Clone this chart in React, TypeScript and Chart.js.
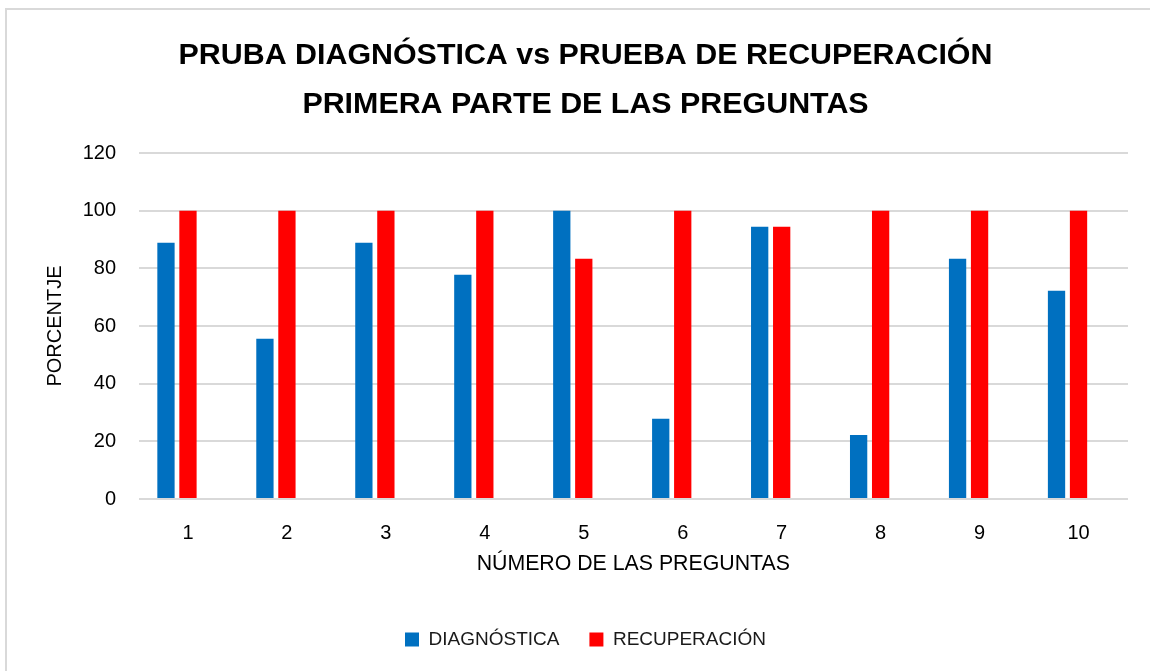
import React, { useEffect, useRef } from "react";
import { Chart, registerables } from "chart.js";

Chart.register(...registerables);

const categories = ["1", "2", "3", "4", "5", "6", "7", "8", "9", "10"];
const diagnostica = [88.9, 55.6, 88.9, 77.8, 100, 27.8, 94.4, 22.2, 83.3, 72.2];
const recuperacion = [100, 100, 100, 100, 83.3, 100, 94.4, 100, 100, 100];
const emptySeries = [null, null, null, null, null, null, null, null, null, null];
const titleLines = ["PRUBA DIAGNÓSTICA vs PRUEBA DE RECUPERACIÓN", "PRIMERA PARTE DE LAS PREGUNTAS"];

const FONT = "'Liberation Sans', Arial, sans-serif";

export default function App() {
  const ref = useRef<HTMLCanvasElement | null>(null);

  useEffect(() => {
    if (!ref.current) return;
    const chart = new Chart(ref.current, {
      type: "bar",
      data: {
        labels: categories,
        datasets: [
          { label: "DIAGNÓSTICA", data: diagnostica, backgroundColor: "#0070C0", borderWidth: 0 },
          { label: "RECUPERACIÓN", data: recuperacion, backgroundColor: "#FF0000", borderWidth: 0 },
          { label: "", data: emptySeries as any, backgroundColor: "rgba(0,0,0,0)", borderWidth: 0 },
        ],
      },
      options: {
        animation: false,
        responsive: false,
        maintainAspectRatio: false,
        datasets: { bar: { categoryPercentage: 0.667, barPercentage: 0.786 } },
        layout: { padding: { left: 43, right: 34, top: 0, bottom: 12 } },
        plugins: {
          tooltip: { enabled: false },
          title: {
            display: true,
            text: titleLines,
            color: "#000",
            font: { family: FONT, size: 30.4, weight: "bold", lineHeight: 49 / 30.4 },
            padding: { top: 31.5, bottom: 23.5 },
          },
          legend: {
            position: "bottom",
            labels: {
              color: "#1a1a1a",
              font: { family: FONT, size: 19 },
              boxWidth: 14,
              boxHeight: 14,
              padding: 30,
              filter: (item: any) => item.text !== "",
            },
          },
        },
        scales: {
          x: {
            grid: { display: false, drawTicks: false },
            border: { display: false },
            ticks: { color: "#000", font: { family: FONT, size: 20 }, padding: 22 },
            title: {
              display: true,
              text: "NÚMERO DE LAS PREGUNTAS",
              color: "#000",
              font: { family: FONT, size: 21.3 },
              padding: { top: 0, bottom: 23 },
            },
            afterFit: (s: any) => {
              s.height = 101;
            },
          },
          y: {
            min: 0,
            max: 120,
            ticks: { stepSize: 20, color: "#000", font: { family: FONT, size: 20 }, padding: 22.5 },
            grid: { color: "#d9d9d9", lineWidth: 2, drawTicks: false },
            border: { display: false },
            title: {
              display: true,
              text: "PORCENTJE",
              color: "#000",
              font: { family: FONT, size: 20 },
              padding: 0,
            },
            afterFit: (s: any) => {
              s.width = 95.5;
            },
          },
        },
      },
    });
    return () => chart.destroy();
  }, []);

  return (
    <div style={{ position: "fixed", left: 0, top: 0, width: 1150, height: 671, overflow: "hidden", background: "#fff" }}>
      <div
        style={{
          position: "absolute",
          left: 5,
          top: 8,
          width: 1170,
          height: 690,
          border: "2px solid #d9d9d9",
          boxSizing: "border-box",
        }}
      />
      <canvas ref={ref} width={1162} height={671} style={{ position: "absolute", left: 0, top: 0, width: 1162, height: 671 }} />
    </div>
  );
}
